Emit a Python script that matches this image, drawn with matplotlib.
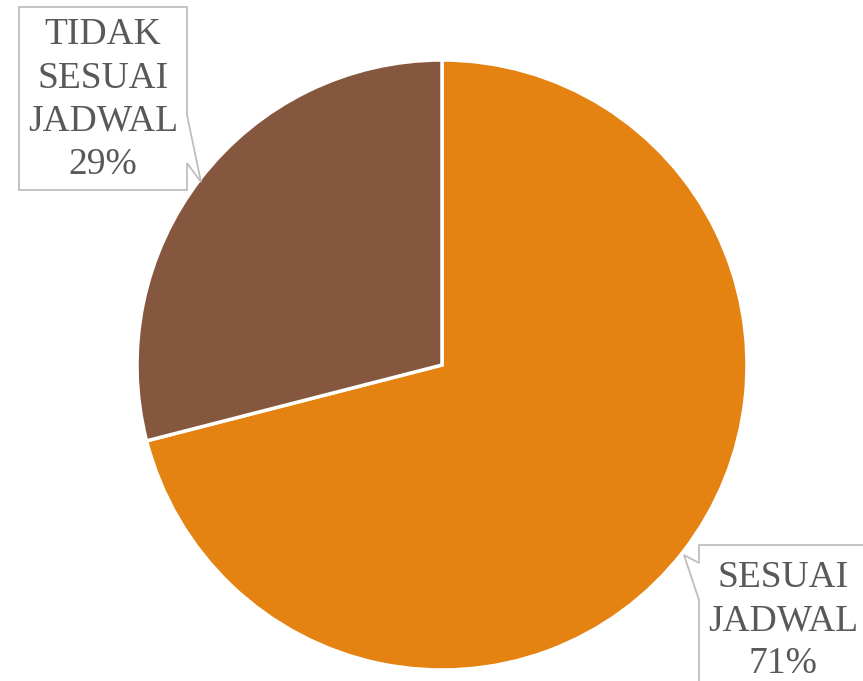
import matplotlib
matplotlib.use("Agg")
import matplotlib.pyplot as plt
from matplotlib.patches import Polygon

categories = ["SESUAI JADWAL", "TIDAK SESUAI JADWAL"]
label_lines = ["SESUAI\nJADWAL", "TIDAK\nSESUAI\nJADWAL"]
values = [71, 29]
colors = ["#E48312", "#86573F"]

W, H = 863, 681
fig = plt.figure(figsize=(W / 100, H / 100), dpi=100)
ax = fig.add_axes([0, 0, 1, 1])
ax.set_xlim(0, W)
ax.set_ylim(0, H)
ax.set_aspect("equal")
ax.axis("off")

def Y(py):
    return H - py

ax.pie(values, colors=colors, startangle=90, counterclock=False,
       center=(442, Y(365)), radius=305,
       wedgeprops=dict(edgecolor="white", linewidth=2.5))
ax.set_xlim(0, W)
ax.set_ylim(0, H)

box_color = "#BFBFBF"
# callout for TIDAK SESUAI JADWAL
poly1 = [(19, Y(7)), (187, Y(7)), (187, Y(115)), (201, Y(182)), (187, Y(163)),
         (187, Y(190)), (19, Y(190))]
ax.add_patch(Polygon(poly1, closed=True, facecolor="white", edgecolor=box_color,
                     linewidth=1.3, zorder=3))
# callout for SESUAI JADWAL
poly2 = [(699, Y(545)), (880, Y(545)), (880, Y(700)), (699, Y(700)),
         (699, Y(600)), (684, Y(555)), (699, Y(563))]
ax.add_patch(Polygon(poly2, closed=True, facecolor="white", edgecolor=box_color,
                     linewidth=1.3, zorder=3, clip_on=True))

font = dict(family="Liberation Serif", color="#595959", fontsize=27, zorder=4,
            ha="center", va="center", linespacing=1.33)
ax.text(103, Y(100), f"{label_lines[1]}\n{values[1]}%", **font)
ax.text(783, Y(621), f"{label_lines[0]}\n{values[0]}%", **font)

fig.savefig("out.png", dpi=100)
